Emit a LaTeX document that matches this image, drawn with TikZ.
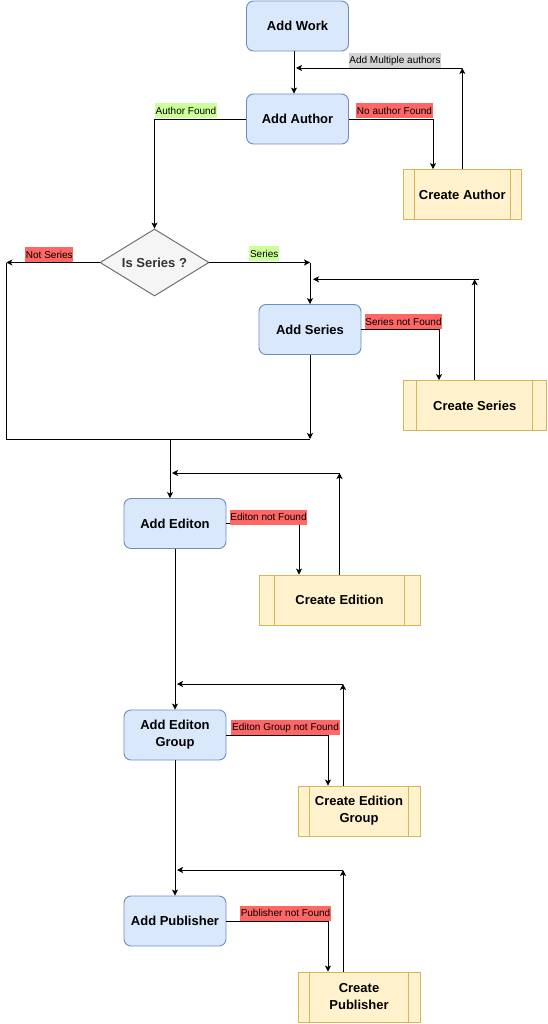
\documentclass[tikz,border=0pt]{standalone}
\usepackage{fontspec}
\setmainfont{Liberation Sans}
\usetikzlibrary{arrows.meta,shapes.geometric}
\definecolor{bfill}{HTML}{DAE8FC}
\definecolor{bdraw}{HTML}{6C8EBF}
\definecolor{yfill}{HTML}{FFF2CC}
\definecolor{ydraw}{HTML}{D6B656}
\definecolor{gfill}{HTML}{F5F5F5}
\definecolor{gdraw}{HTML}{666666}
\definecolor{lred}{HTML}{FF6666}
\definecolor{lgreen}{HTML}{CCFF99}
\definecolor{lgray}{HTML}{D3D3D3}
\begin{document}
\begin{tikzpicture}[x=1pt,y=-1pt,
 boxfont/.style={font=\fontsize{13}{17}\selectfont\bfseries},
 addbox/.style={boxfont,draw=bdraw,fill=bfill,rounded corners=7pt,minimum width=102pt,minimum height=50pt,align=center,inner sep=0pt,line width=0.9pt},
 procbox/.style={boxfont,draw=ydraw,fill=yfill,minimum height=50pt,align=center,inner sep=0pt,line width=0.9pt},
 decision/.style={boxfont,diamond,draw=gdraw,fill=gfill,aspect=1.63,minimum width=109pt,minimum height=67pt,inner sep=0pt,text=black!80,line width=0.9pt},
 lab/.style={font=\fontsize{10}{12}\selectfont,inner xsep=0.8pt,inner ysep=0pt,minimum height=15pt},
 conn/.style={line width=0.8pt},
 arr/.style={conn,-{Stealth[length=6pt,width=6pt,inset=1.5pt]}}
]
\fill[white] (0,0) rectangle (547,1024);
\useasboundingbox (0,0) rectangle (547,1024);

% nodes
\node[addbox] (work) at (297.5,26) {Add Work};
\node[addbox] (author) at (297.5,119) {Add Author};
\node[procbox,minimum width=118.6pt] (cauthor) at (462.3,194.5) {Create Author};
\node[decision] (series) at (154.5,262.5) {Is Series ?};
\node[addbox] (sseries) at (310,329.5) {Add Series};
\node[procbox,minimum width=143.4pt] (cseries) at (474.7,405.5) {Create Series};
\node[addbox] (edition) at (175,523.5) {Add Editon};
\node[procbox,minimum width=161pt] (cedition) at (339.5,600) {Create Edition};
\node[addbox] (group) at (175,735) {Add Editon\\Group};
\node[procbox,minimum width=122pt] (cgroup) at (359,811) {Create Edition\\Group};
\node[addbox] (publisher) at (175,921) {Add Publisher};
\node[procbox,minimum width=122pt] (cpublisher) at (359,997) {Create\\Publisher};

\foreach \n/\d in {cauthor/11.9,cseries/14.3,cedition/16.1,cgroup/12.2,cpublisher/12.2}{
  \draw[ydraw,line width=0.9pt] ([xshift=\d pt]\n.north west) -- ([xshift=\d pt]\n.south west)
    ([xshift=-\d pt]\n.north east) -- ([xshift=-\d pt]\n.south east);
}

% coordinates
\coordinate (m1) at (462.3,68);
\coordinate (m2) at (296,68);
\coordinate (ns) at (6.3,262.5);
\coordinate (ys) at (310,262.5);
\coordinate (s1) at (478.7,279.3);
\coordinate (s2) at (313,279.3);
\coordinate (j1) at (6.3,439);
\coordinate (j2) at (310,439);
\coordinate (j3) at (170,439);
\coordinate (e1) at (339.5,473);
\coordinate (e2) at (172,473);
\coordinate (g1) at (343,684);
\coordinate (g2) at (177,684);
\coordinate (p1) at (343,870);
\coordinate (p2) at (177,870);

% connectors
\draw[arr] ([xshift=-3.5pt]work.south) -- ([xshift=-3.5pt]author.north);
\draw[arr] (cauthor.north) -- (m1);
\draw[arr] (m1) -- (m2);
\draw[arr] (author.west) -| (series.north);
\draw[arr] (author.east) -| ([xshift=-29.3pt]cauthor.north);

\draw[arr] (series.west) -- (ns);
\draw[arr] (series.east) -- (ys);
\draw[arr] (ys) -- (sseries.north);
\draw[arr] (cseries.north) -- (cseries.north |- s1);
\draw[arr] (s1) -- (s2);
\draw[arr] (sseries.east) -| ([xshift=-35.7pt]cseries.north);
\draw[arr] (sseries.south) -- (j2);
\draw[conn] (ns) -- (j1) -- (j2);
\draw[arr] (j3) -- (edition.north -| j3);

\draw[arr] (cedition.north) -- (e1);
\draw[arr] (e1) -- (e2);
\draw[arr] (edition.east) -| ([xshift=-40.5pt]cedition.north);
\draw[arr] (edition.south) -- (group.north);

\draw[arr] ([xshift=-16pt]cgroup.north) -- (g1);
\draw[arr] (g1) -- (g2);
\draw[arr] (group.east) -| ([xshift=-31pt]cgroup.north);
\draw[arr] (group.south) -- (publisher.north);

\draw[arr] ([xshift=-16pt]cpublisher.north) -- (p1);
\draw[arr] (p1) -- (p2);
\draw[arr] (publisher.east) -| ([xshift=-31pt]cpublisher.north);

% labels
\node[lab,fill=lgray] (lmulti) at (395,60.5) {Add Multiple authors};
\node[lab,fill=lgreen] (lfound) at (186,111) {Author Found};
\node[lab,fill=lred] (lnoauthor) at (394.5,111) {No author Found};
\node[lab,fill=lred] (lnotseries) at (49.3,254.5) {Not Series};
\node[lab,fill=lgreen] (lseries) at (264.2,253.5) {Series};
\node[lab,fill=lred] (lsnf) at (403.5,321.5) {Series not Found};
\node[lab,fill=lred] (lenf) at (268.5,517) {Editon not Found};
\node[lab,fill=lred] (lgnf) at (285.5,727.5) {Editon Group not Found};
\node[lab,fill=lred] (lpnf) at (285.5,913) {Publisher not Found};
\end{tikzpicture}
\end{document}
